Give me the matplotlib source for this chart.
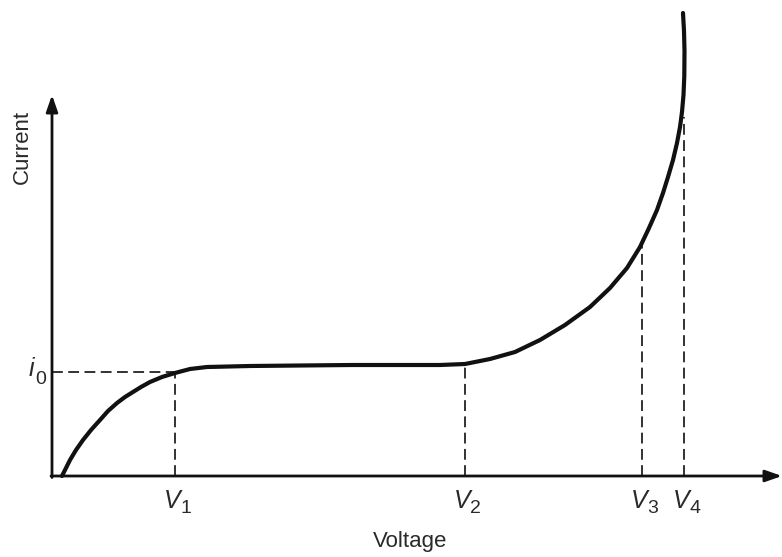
import matplotlib.pyplot as plt

plt.rcParams['font.family'] = 'Liberation Sans'

# I-V curve (arbitrary units, origin at the axes corner)
voltage = [10, 13, 18, 24, 31, 39, 48, 56, 65, 73, 81, 89, 98, 110, 123,
           138, 155, 198, 248, 300, 348, 388, 413, 438, 463, 488, 513,
           538, 558, 575, 588, 597, 605, 611, 616, 621, 625, 628, 630,
           631.5, 632.3, 632.5, 632, 631]
current = [0, 6, 16, 26, 36, 46, 56, 65, 73, 79, 84, 89, 94, 99, 103,
           107, 109, 110, 110.5, 111, 111, 111, 112, 117, 124, 136, 151,
           169, 188, 208, 229, 248, 266, 283, 299, 316, 333, 349, 364,
           381, 400, 425, 445, 463]

# marked points
v_marks = [123, 413, 590, 632]
i_at_marks = [103, 113, 233, 359]
v_subs = ['1', '2', '3', '4']
i0 = 104

fig = plt.figure(figsize=(7.82, 5.57), dpi=100)
ax = fig.add_axes([0, 0, 1, 1])
ax.set_xlim(-52, 730)
ax.set_ylim(-81, 476)
ax.axis('off')

ink = '#111111'
txt = '#2a2a2a'

# axes with arrows
ax.annotate('', xy=(0, 381), xytext=(0, -1.5),
            arrowprops=dict(arrowstyle='-|>,head_length=1.0,head_width=0.35',
                            color=ink, lw=2.0, shrinkA=0, shrinkB=0))
ax.annotate('', xy=(730, 0), xytext=(-1, 0),
            arrowprops=dict(arrowstyle='-|>,head_length=1.0,head_width=0.35',
                            color=ink, lw=2.0, shrinkA=0, shrinkB=0))

# dashed guides
dash = dict(color='#222222', lw=1.3, dashes=(6, 3))
ax.plot([0, v_marks[0]], [i0, i0], **dash)
for v, i in zip(v_marks, i_at_marks):
    ax.plot([v, v], [0, i], **dash)

# curve
ax.plot(voltage, current, color=ink, lw=3.0, solid_capstyle='round',
        solid_joinstyle='round')

# labels: italic letter plus a plain subscript digit
for v, s in zip(v_marks, v_subs):
    ax.text(v + 5, -13, 'V', ha='right', va='top', fontsize=18,
            style='italic', color=txt)
    ax.text(v + 5, -24, s, ha='left', va='top', fontsize=14, color=txt)
ax.text(-17.5, i0 + 3, 'i', ha='right', va='center', fontsize=18,
        style='italic', color=txt)
ax.text(-16.5, i0 - 8, '0', ha='left', va='center', fontsize=14, color=txt)
ax.text(-30, 329, 'Current', rotation=90, ha='center', va='center',
        fontsize=16, color=txt)
ax.text(358, -66, 'Voltage', ha='center', va='center', fontsize=16, color=txt)

fig.savefig('out.png', dpi=100)
